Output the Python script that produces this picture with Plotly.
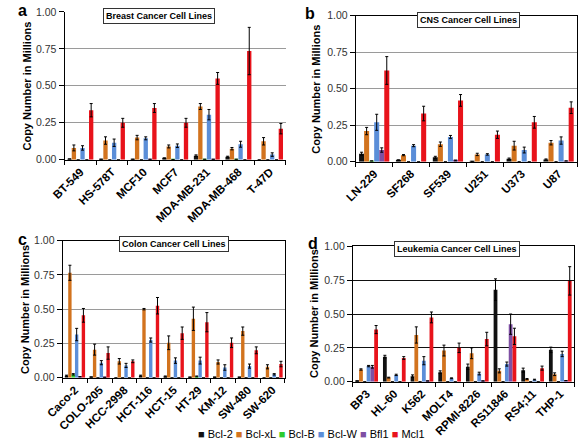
import plotly.graph_objects as go

series = ["Bcl-2", "Bcl-xL", "Bcl-B", "Bcl-W", "Bfl1", "Mcl1"]
series_colors = ["#111111", "#D2731E", "#2DCB2D", "#5B8ED8", "#7E4FA3", "#E8131B"]

# Panel a: Breast
breast_cells = ["BT-549", "HS-578T", "MCF10", "MCF7", "MDA-MB-231", "MDA-MB-468", "T-47D"]
breast_mean = {
    "Bcl-2":  [0.005, 0.003, 0.003, 0.010, 0.028, 0.020, 0.0],
    "Bcl-xL": [0.080, 0.130, 0.150, 0.090, 0.360, 0.075, 0.125],
    "Bcl-B":  [0.0, 0.0, 0.0, 0.002, 0.003, 0.003, 0.0],
    "Bcl-W":  [0.080, 0.115, 0.145, 0.095, 0.305, 0.105, 0.035],
    "Bfl1":   [0.0, 0.0, 0.003, 0.0, 0.003, 0.0, 0.0],
    "Mcl1":   [0.335, 0.250, 0.350, 0.250, 0.550, 0.735, 0.210],
}
breast_err = {
    "Bcl-2":  [0, 0, 0, 0.003, 0.005, 0.004, 0],
    "Bcl-xL": [0.020, 0.025, 0.015, 0.010, 0.020, 0.008, 0.025],
    "Bcl-B":  [0, 0, 0, 0, 0, 0, 0],
    "Bcl-W":  [0.015, 0.025, 0.010, 0.012, 0.035, 0.020, 0.012],
    "Bfl1":   [0, 0, 0, 0, 0, 0, 0],
    "Mcl1":   [0.045, 0.030, 0.030, 0.030, 0.040, 0.160, 0.035],
}

# Panel b: CNS
cns_cells = ["LN-229", "SF268", "SF539", "U251", "U373", "U87"]
cns_mean = {
    "Bcl-2":  [0.055, 0.010, 0.030, 0.002, 0.020, 0.015],
    "Bcl-xL": [0.210, 0.045, 0.120, 0.050, 0.110, 0.130],
    "Bcl-B":  [0.005, 0.0, 0.0, 0.0, 0.0, 0.0],
    "Bcl-W":  [0.270, 0.110, 0.170, 0.050, 0.080, 0.145],
    "Bfl1":   [0.080, 0.0, 0.008, 0.0, 0.0, 0.005],
    "Mcl1":   [0.625, 0.330, 0.420, 0.185, 0.270, 0.370],
}
cns_err = {
    "Bcl-2":  [0.010, 0.003, 0.007, 0, 0.005, 0.004],
    "Bcl-xL": [0.025, 0.004, 0.015, 0.008, 0.030, 0.015],
    "Bcl-B":  [0, 0, 0, 0, 0, 0],
    "Bcl-W":  [0.055, 0.007, 0.010, 0.005, 0.020, 0.025],
    "Bfl1":   [0.015, 0, 0.003, 0, 0, 0],
    "Mcl1":   [0.095, 0.050, 0.040, 0.025, 0.040, 0.040],
}

# Panel c: Colon
colon_cells = ["Caco-2", "COLO-205", "HCC-2998", "HCT-116", "HCT-15", "HT-29", "KM-12", "SW-480", "SW-620"]
colon_mean = {
    "Bcl-2":  [0.015, 0.005, 0.0, 0.015, 0.010, 0.003, 0.003, 0.003, 0.0],
    "Bcl-xL": [0.765, 0.205, 0.120, 0.500, 0.255, 0.430, 0.115, 0.340, 0.080],
    "Bcl-B":  [0.025, 0.0, 0.0, 0.0, 0.0, 0.010, 0.0, 0.0, 0.0],
    "Bcl-W":  [0.315, 0.110, 0.090, 0.275, 0.125, 0.125, 0.075, 0.085, 0.025],
    "Bfl1":   [0.008, 0.003, 0.0, 0.0, 0.0, 0.0, 0.0, 0.0, 0.0],
    "Mcl1":   [0.455, 0.180, 0.120, 0.525, 0.325, 0.405, 0.255, 0.200, 0.100],
}
colon_err = {
    "Bcl-2":  [0.004, 0, 0, 0.004, 0.003, 0, 0, 0, 0],
    "Bcl-xL": [0.055, 0.040, 0.020, 0.005, 0.050, 0.085, 0.015, 0.030, 0.015],
    "Bcl-B":  [0.005, 0, 0, 0, 0, 0.003, 0, 0, 0],
    "Bcl-W":  [0.045, 0.015, 0.015, 0.015, 0.020, 0.025, 0.020, 0.015, 0.005],
    "Bfl1":   [0, 0, 0, 0, 0, 0, 0, 0, 0],
    "Mcl1":   [0.050, 0.045, 0.010, 0.060, 0.045, 0.070, 0.035, 0.025, 0.020],
}

# Panel d: Leukemia
leuk_cells = ["BP3", "HL-60", "K562", "MOLT4", "RPMI-8226", "RS11846", "RS4;11", "THP-1"]
leuk_mean = {
    "Bcl-2":  [0.005, 0.185, 0.040, 0.070, 0.110, 0.680, 0.085, 0.235],
    "Bcl-xL": [0.090, 0.030, 0.345, 0.230, 0.210, 0.080, 0.020, 0.055],
    "Bcl-B":  [0.0, 0.0, 0.0, 0.0, 0.0, 0.0, 0.0, 0.0],
    "Bcl-W":  [0.115, 0.050, 0.155, 0.025, 0.060, 0.130, 0.015, 0.205],
    "Bfl1":   [0.110, 0.0, 0.005, 0.0, 0.005, 0.425, 0.0, 0.008],
    "Mcl1":   [0.385, 0.175, 0.475, 0.250, 0.315, 0.335, 0.100, 0.745],
}
leuk_err = {
    "Bcl-2":  [0, 0.010, 0.010, 0.010, 0.020, 0.080, 0.015, 0.020],
    "Bcl-xL": [0.005, 0.003, 0.060, 0.040, 0.040, 0.015, 0.003, 0.010],
    "Bcl-B":  [0, 0, 0, 0, 0, 0, 0, 0],
    "Bcl-W":  [0.005, 0.005, 0.030, 0.003, 0.010, 0.015, 0.003, 0.020],
    "Bfl1":   [0.010, 0, 0, 0, 0, 0.075, 0, 0],
    "Mcl1":   [0.030, 0.010, 0.040, 0.035, 0.050, 0.060, 0.015, 0.105],
}

y_ticks = [0.0, 0.25, 0.5, 0.75, 1.0]
y_ticktext = ["0.00", "0.25", "0.50", "0.75", "1.00"]
panel_titles = ["Breast Cancer Cell Lines", "CNS Cancer Cell Lines",
                "Colon Cancer Cell Lines", "Leukemia Cancer Cell Lines"]
panel_letters = ["a", "b", "c", "d"]

W, H = 578, 448
def px_x(x):
    return x / W
def px_y(y):
    return 1 - y / H

# plot areas in pixels: (left, right, top, bottom)
areas = [(49, 277, 6, 158), (349, 577, 10, 160), (47, 276, 241, 382), (346, 574, 247, 386)]
title_pos = [(146, 10), (465, 14), (162, 245), (453, 250)]
letter_pos = [(6, 5), (302, 8), (6, 240), (305, 244)]
ytitle_x = [10, 308, 8, 306]
grid_colors = ["#9a9a9a", "#9a9a9a", "#9a9a9a", "#111111"]

panels = [
    (breast_cells, breast_mean, breast_err),
    (cns_cells, cns_mean, cns_err),
    (colon_cells, colon_mean, colon_err),
    (leuk_cells, leuk_mean, leuk_err),
]

FONT = "Liberation Sans, Arial, sans-serif"
fig = go.Figure()
annotations = []
layout_axes = {}

for i, (cells, mean, err) in enumerate(panels):
    xa = "x" if i == 0 else f"x{i+1}"
    ya = "y" if i == 0 else f"y{i+1}"
    for s, c in zip(series, series_colors):
        fig.add_trace(go.Bar(
            x=cells, y=mean[s], name=s, marker_color=c, marker_line_width=0,
            error_y=dict(type="data", array=err[s], color="black", thickness=1, width=1.5),
            xaxis=xa, yaxis=ya, showlegend=False,
        ))
    l, r, t, b = areas[i]
    xkey = "xaxis" if i == 0 else f"xaxis{i+1}"
    ykey = "yaxis" if i == 0 else f"yaxis{i+1}"
    layout_axes[xkey] = dict(
        domain=[px_x(l), px_x(r)], anchor=ya, type="category",
        tickangle=-45, tickfont=dict(family=FONT, size=11.5, color="black", weight="bold"),
        showline=True, linecolor="black", linewidth=1, mirror=(i != 0),
        ticks="outside", ticklen=4, tickson="boundaries", tickcolor="black",
        showgrid=False,
    )
    layout_axes[ykey] = dict(
        domain=[px_y(b), px_y(t)], anchor=xa, range=[0, 1.0],
        tickvals=y_ticks, ticktext=y_ticktext,
        tickfont=dict(family=FONT, size=10.5, color="#333"),
        showline=True, linecolor="black", linewidth=1, mirror=(i != 0),
        ticks="outside", ticklen=5, tickcolor="black",
        showgrid=True, gridcolor=grid_colors[i], gridwidth=1, zeroline=False,
    )
    tx, ty = title_pos[i]
    annotations.append(dict(
        x=px_x(tx), y=px_y(ty), xref="paper", yref="paper", text=panel_titles[i],
        showarrow=False, font=dict(family=FONT, size=9, color="black", weight="bold"),
        bgcolor="white", bordercolor="#333", borderwidth=1, borderpad=2,
        xanchor="center", yanchor="middle",
    ))
    lx, ly = letter_pos[i]
    annotations.append(dict(
        x=px_x(lx), y=px_y(ly), xref="paper", yref="paper", text=panel_letters[i],
        showarrow=False, font=dict(family=FONT, size=16, color="black", weight="bold"),
        xanchor="center", yanchor="middle",
    ))
    annotations.append(dict(
        x=px_x(ytitle_x[i]), y=px_y((t + b) / 2), xref="paper", yref="paper",
        text="Copy Number in Millions", textangle=-90, showarrow=False,
        font=dict(family=FONT, size=11, color="black", weight="bold"),
        xanchor="center", yanchor="middle",
    ))

legend_text = "".join(
    f"<span style='color:{c}'>■</span> {s} " for s, c in zip(series, series_colors)
).strip()
annotations.append(dict(
    x=px_x(303), y=px_y(440), xref="paper", yref="paper", text=legend_text,
    showarrow=False, font=dict(family=FONT, size=11, color="black"),
    xanchor="center", yanchor="middle",
))

fig.update_layout(
    width=W, height=H, margin=dict(l=0, r=0, t=0, b=0),
    paper_bgcolor="white", plot_bgcolor="white",
    barmode="group", bargap=0.18, bargroupgap=0.0,
    annotations=annotations, showlegend=False,
    font=dict(family=FONT),
    **layout_axes,
)

fig.write_html("out.html", config={"displayModeBar": False},
               post_script="document.body.style.margin='0';document.body.style.overflow='hidden';")
